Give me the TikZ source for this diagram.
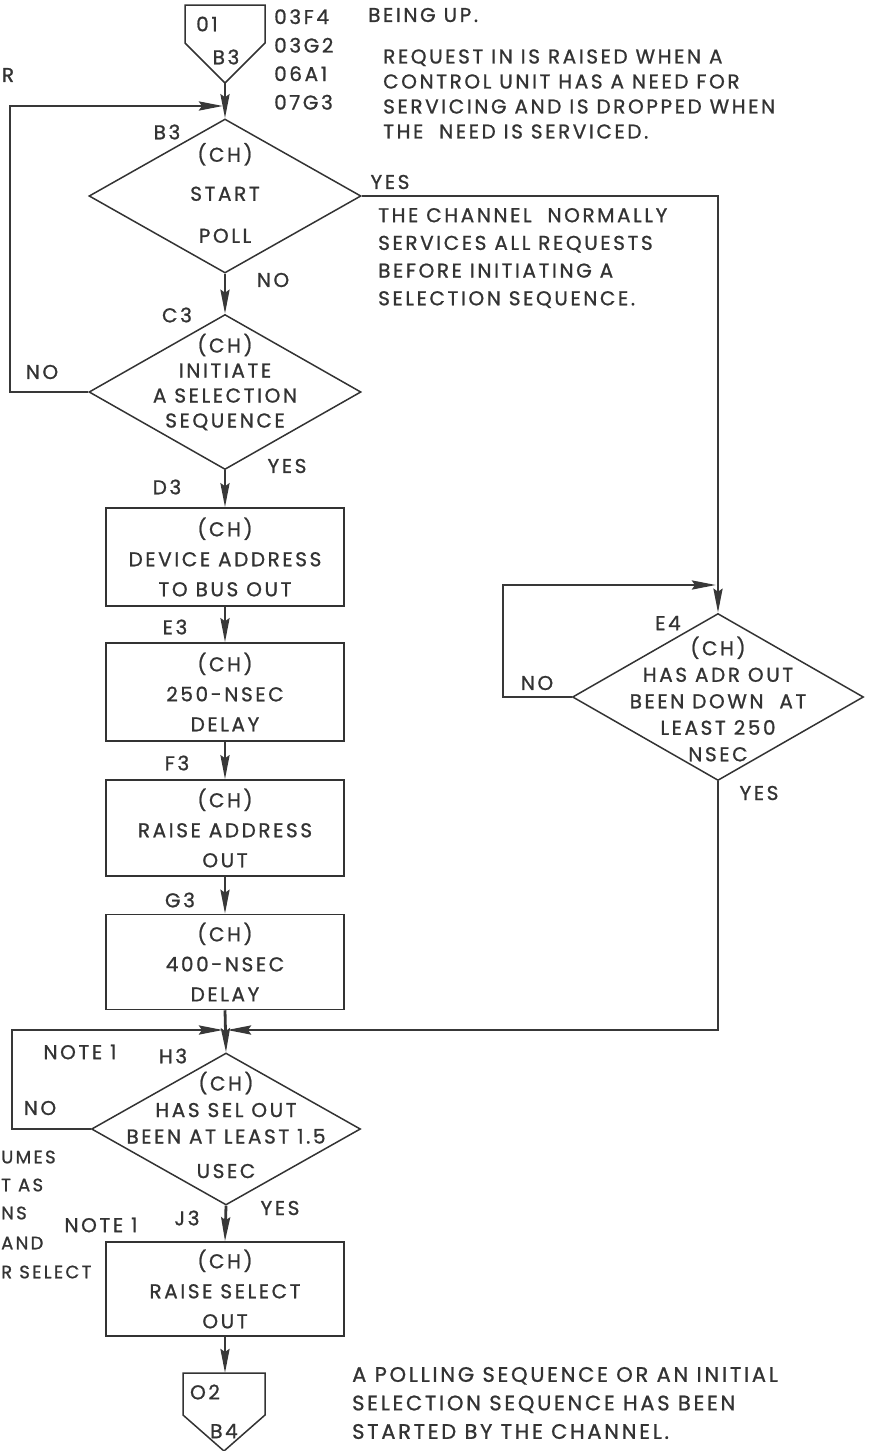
\documentclass[tikz,border=0pt]{standalone}
\usepackage{fontspec}
\setmainfont{Poppins}[LetterSpace=13,FakeBold=1]
\usetikzlibrary{shapes.geometric,arrows.meta}

\begin{document}
\begin{tikzpicture}[x=1pt,y=-1pt]
	 \tikzstyle{txt}=[inner sep=0pt,align=center,text=black!80,font=\fontsize{20}{30}\selectfont]
	 \tikzstyle{tight txt}=[txt,font=\fontsize{20}{26.5}\selectfont]
	 \tikzstyle{note}=[txt,align=left,anchor=west,font=\fontsize{20}{25}\selectfont]
	 \tikzstyle{outline}=[draw,line width=1.5pt,black!80]
	 \tikzstyle{decision}=[diamond,outline,inner sep=0pt]
	 \tikzstyle{process}=[rectangle,outline,minimum width=238pt]
	 \tikzstyle{flow}=[draw,line width=2.8pt,black!78]
	 \tikzstyle{arrow}=[flow,-{Stealth[length=24pt,width=9pt,inset=3pt]}]
	 \useasboundingbox (0,0) rectangle (872,1451);
	 % off-page connectors
	 \draw[outline] (185,5) -- (265,5) -- (265,43) -- (225,83) -- (185,43) -- cycle;
	 \coordinate (o1) at (225,83);
	 \node[txt] (o1a) at (207,24) {01};
	 \node[txt] (o1b) at (226,57) {B3};
	 \draw[outline] (183,1373) -- (265,1373) -- (265,1415) -- (224,1451) -- (183,1415) -- cycle;
	 \coordinate (o2) at (225,1373);
	 \node[txt] (o2a) at (205,1392) {O2};
	 \node[txt] (o2b) at (224,1431) {B4};
	 % decisions
	 \node[decision,minimum width=272pt,minimum height=154pt] (b3) at (225,196) {};
	 \node[decision,minimum width=272pt,minimum height=155pt] (c3) at (225,392) {};
	 \node[decision,minimum width=291pt,minimum height=167pt] (e4) at (718,697) {};
	 \node[decision,minimum width=269pt,minimum height=152pt] (h3) at (226,1129) {};
	 \node[txt] (b3t) at (225,193) {(CH)\\[9pt]START\\[12pt]POLL};
	 \node[tight txt,font=\fontsize{20}{25}\selectfont] (c3t) at (225,382) {(CH)\\INITIATE\\A SELECTION\\SEQUENCE};
	 \node[tight txt] (e4t) at (718,699) {(CH)\\HAS ADR OUT\\BEEN DOWN\ \ AT\\LEAST 250\\NSEC};
	 \node[tight txt] (h3t) at (226,1125) {(CH)\\HAS SEL OUT\\BEEN AT LEAST 1.5\\[8pt]USEC};
	 % processes
	 \node[process,minimum height=98pt] (d3) at (225,557) {};
	 \node[process,minimum height=98pt] (e3) at (225,692) {};
	 \node[process,minimum height=96pt] (f3) at (225,828) {};
	 \node[process,minimum height=95pt] (g3) at (225,962) {};
	 \node[process,minimum height=94pt] (j3) at (225,1289) {};
	 \node[txt] (d3t) at (225,557) {(CH)\\DEVICE ADDRESS\\TO BUS OUT};
	 \node[txt] (e3t) at (225,692) {(CH)\\250-NSEC\\DELAY};
	 \node[txt] (f3t) at (225,828) {(CH)\\RAISE ADDRESS\\OUT};
	 \node[txt] (g3t) at (225,962) {(CH)\\400-NSEC\\DELAY};
	 \node[txt] (j3t) at (225,1289) {(CH)\\RAISE SELECT\\OUT};
	 % block ids
	 \node[txt] (lb3) at (167,132) {B3};
	 \node[txt] (lc3) at (177,315) {C3};
	 \node[txt] (ld3) at (167,487) {D3};
	 \node[txt] (le3) at (175,627) {E3};
	 \node[txt] (lf3) at (177,763) {F3};
	 \node[txt] (lg3) at (180,900) {G3};
	 \node[txt] (lh3) at (173,1056) {H3};
	 \node[txt] (lj3) at (187,1218) {J3};
	 \node[txt] (le4) at (668,623) {E4};
	 % branch labels
	 \node[txt] (yb3) at (390,182) {YES};
	 \node[txt] (nb3) at (273,280) {NO};
	 \node[txt] (nc3) at (42,372) {NO};
	 \node[txt] (yc3) at (287,466) {YES};
	 \node[txt] (ne4) at (537,683) {NO};
	 \node[txt] (ye4) at (759,793) {YES};
	 \node[txt] (nh3) at (40,1108) {NO};
	 \node[txt] (yh3) at (280,1208) {YES};
	 \node[txt] (nt1) at (80,1052) {NOTE 1};
	 \node[txt] (nt2) at (101,1225) {NOTE 1};
	 % references and notes
	 \node[note,font=\fontsize{20}{28.5}\selectfont] (refs) at (274,59.5) {03F4\\03G2\\06A1\\07G3};
	 \node[txt] (lr) at (8,75) {R};
	 \node[note] (up) at (368,15) {BEING UP.};
	 \node[note] (req) at (383,94) {REQUEST IN IS RAISED WHEN A\\CONTROL UNIT HAS A NEED FOR\\SERVICING AND IS DROPPED WHEN\\THE\ \ NEED IS SERVICED.};
	 \node[note,font=\fontsize{20}{27.7}\selectfont] (chn) at (378,258) {THE CHANNEL\ \ NORMALLY\\SERVICES ALL REQUESTS\\BEFORE INITIATING A\\SELECTION SEQUENCE.};
	 \node[note,font=\fontsize{21}{28.5}\selectfont] (done) at (352,1403) {A POLLING SEQUENCE OR AN INITIAL\\SELECTION SEQUENCE HAS BEEN\\STARTED BY THE CHANNEL.};
	 \tikzstyle{cut note}=[note,font=\fontsize{18}{25}\selectfont]
	 \node[cut note] (p1) at (1,1157) {UMES};
	 \node[cut note] (p2) at (1,1185) {T AS};
	 \node[cut note] (p3) at (1,1213) {NS};
	 \node[cut note] (p4) at (1,1243) {AND};
	 \node[cut note] (p5) at (1,1272) {R SELECT};
	 % connectors
	 \coordinate (m1) at (225,106);
	 \coordinate (m2) at (718,585);
	 \coordinate (m3) at (225,1030);
	 \coordinate (l1) at (10,250);
	 \coordinate (l3) at (503,640);
	 \coordinate (l4) at (12,1080);
	 \draw[arrow] (o1) -- (b3.north);
	 \draw[arrow,shorten >=2pt] (c3.west) -| (l1) |- (m1);
	 \draw[arrow] (b3.south) -- (c3.north);
	 \draw[arrow] (b3.east) -| (e4.north);
	 \draw[arrow,shorten >=2pt] (e4.west) -| (l3) |- (m2);
	 \draw[arrow,shorten >=2pt] (e4.south) |- (m3);
	 \draw[arrow] (c3.south) -- (d3.north);
	 \draw[arrow] (d3) -- (e3);
	 \draw[arrow] (e3) -- (f3);
	 \draw[arrow] (f3) -- (g3);
	 \draw[arrow] (g3.south) -- (h3.north);
	 \draw[arrow,shorten >=2pt] (h3.west) -| (l4) |- (m3);
	 \draw[arrow] (h3.south) -- (j3.north);
	 \draw[arrow] (j3.south) -- (o2);
\end{tikzpicture}
\end{document}
